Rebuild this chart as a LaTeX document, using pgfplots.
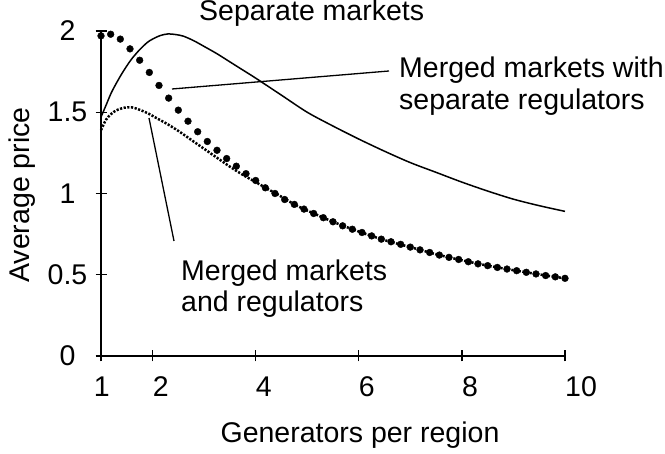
\documentclass[border=0pt]{standalone}
\usepackage{fontspec}
\setmainfont{Liberation Sans}
\usepackage{pgfplots}
\pgfplotsset{compat=1.18}
\newcommand\F{\fontsize{28.5}{34}\selectfont}
\begin{document}
\begin{tikzpicture}[x=1pt,y=1pt]
\useasboundingbox (0,0) rectangle (665,454);
\begin{axis}[
  at={(101pt,98pt)}, anchor=south west,
  scale only axis, width=464pt, height=325pt,
  xmin=1, xmax=10, ymin=0, ymax=2,
  axis lines=left, axis line style={-, line width=1.6pt},
  clip=false,
  xtick={1,2,4,6,8,10},
  xticklabels={\makebox[0pt][c]{1},2,4,6,8,10},
  ytick={0,0.5,1,1.5,2},
  tick align=center, major tick length=11pt,
  tick style={line width=1.3pt, black},
  /pgf/number format/assume math mode=true,
  tick label style={font=\F, inner sep=0pt},
  xticklabel style={anchor=north west, yshift=-15pt},
  yticklabel style={anchor=center, xshift=-28pt},
]
% Merged markets and regulators (small dotted line)
\addplot[black, line width=2.5pt, dash pattern=on 2.2pt off 1.5pt, smooth, tension=0.5] coordinates {
(1.0,1.39) (1.1,1.455) (1.2,1.49) (1.3,1.512) (1.45,1.528) (1.6,1.53) (1.75,1.515)
(1.9,1.495) (2.1,1.46) (2.3,1.425) (2.5,1.385) (2.75,1.33) (3.0,1.275) (3.25,1.22)
(3.5,1.165) (3.75,1.115) (4.0,1.07) (4.25,1.025) (4.5,0.98) (4.75,0.933) (5.0,0.895)
(5.5,0.826) (6.0,0.766) (6.5,0.713) (7.0,0.670) (7.5,0.626) (8.0,0.589) (8.5,0.556)
(9.0,0.528) (9.5,0.502) (10.0,0.478)};
% Separate markets (solid line)
\addplot[black, line width=1.5pt, smooth, tension=0.5] coordinates {
(1.0,1.47) (1.1,1.545) (1.2,1.62) (1.3,1.68) (1.4,1.735) (1.5,1.785) (1.6,1.83)
(1.75,1.885) (1.9,1.93) (2.0,1.95) (2.15,1.972) (2.3,1.982) (2.45,1.978) (2.6,1.968)
(2.8,1.94) (3.0,1.905) (3.25,1.86) (3.5,1.81) (3.75,1.76) (4.0,1.71) (4.5,1.605)
(5.0,1.50) (5.5,1.415) (6.0,1.335) (6.5,1.26) (7.0,1.19) (7.5,1.13) (8.0,1.07)
(8.5,1.015) (9.0,0.965) (9.5,0.925) (10.0,0.89)};
% Merged markets with separate regulators (large dots)
\addplot[only marks, mark=*, mark size=3.4pt, black] coordinates {
(1.0,1.97) (1.1875,1.98) (1.375,1.95) (1.5625,1.89) (1.75,1.82) (1.9375,1.745)
(2.125,1.665) (2.3125,1.587) (2.5,1.513) (2.6875,1.445) (2.875,1.38) (3.0625,1.32)
(3.25,1.266) (3.4375,1.215) (3.625,1.168) (3.8125,1.122) (4.0,1.08) (4.1875,1.035)
(4.375,1.00) (4.5625,0.963) (4.75,0.933) (4.9375,0.904) (5.125,0.877) (5.3125,0.851)
(5.5,0.826) (5.6875,0.801) (5.875,0.780) (6.0625,0.760) (6.25,0.739) (6.4375,0.719)
(6.625,0.703) (6.8125,0.687) (7.0,0.670) (7.1875,0.653) (7.375,0.637) (7.5625,0.621)
(7.75,0.607) (7.9375,0.594) (8.125,0.580) (8.3125,0.567) (8.5,0.556) (8.6875,0.545)
(8.875,0.535) (9.0625,0.525) (9.25,0.515) (9.4375,0.505) (9.625,0.495) (9.8125,0.487)
(10.0,0.478)};
\end{axis}
% titles and annotations
\node[font=\F, inner sep=0pt, anchor=base west] at (199,433) {Separate markets};
\node[font=\F, inner sep=0pt, anchor=base west] at (399,376) {Merged markets with};
\node[font=\F, inner sep=0pt, anchor=base west] at (399,344) {separate regulators};
\node[font=\F, inner sep=0pt, anchor=base west] at (181,173) {Merged markets};
\node[font=\F, inner sep=0pt, anchor=base west] at (181,142) {and regulators};
\draw[line width=1.3pt] (172,365) -- (389,383);
\draw[line width=1.3pt] (149,336) -- (174,213);
\node[font=\F, inner sep=0pt, anchor=base] at (360,11) {Generators per region};
\node[font=\F, inner sep=0pt, anchor=center, rotate=90] at (22,259) {Average price};
\end{tikzpicture}
\end{document}
